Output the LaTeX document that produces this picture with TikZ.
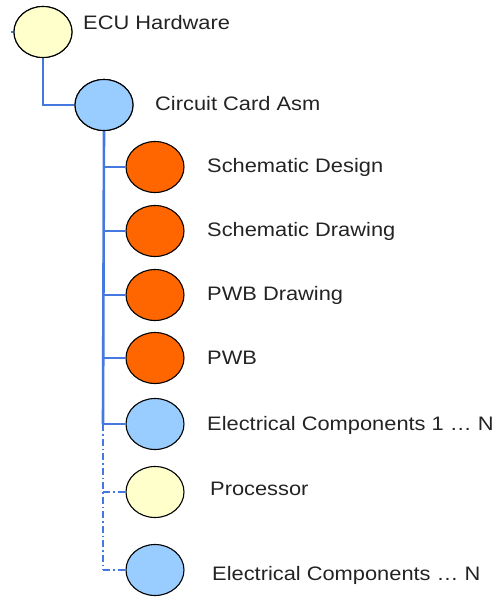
\documentclass[tikz,border=0pt]{standalone}
\usepackage{fontspec}
\setmainfont{Liberation Sans}[FakeStretch=1.12]
\usetikzlibrary{shapes.geometric}
\definecolor{linkblue}{RGB}{70,120,225}
\definecolor{lblue}{RGB}{153,204,255}
\definecolor{orng}{RGB}{255,102,0}
\definecolor{lyel}{RGB}{255,255,204}
\definecolor{txt}{RGB}{35,35,35}
\tikzset{
  bub/.style={ellipse, draw=black, line width=1.1pt, minimum width=58pt, minimum height=51pt, inner sep=0pt},
  bblue/.style={bub, fill=lblue},
  borange/.style={bub, fill=orng},
  byellow/.style={bub, fill=lyel},
  lbl/.style={anchor=base west, inner sep=0pt, text=txt, font=\fontsize{19.5}{22}\selectfont},
  link/.style={draw=linkblue, line width=2.6pt},
  dlink/.style={draw=linkblue, line width=2.3pt, dash pattern=on 7pt off 3pt on 1.5pt off 3pt}
}
\begin{document}
\begin{tikzpicture}[x=1pt,y=-1pt]
\useasboundingbox (0,0) rectangle (498,597);
\coordinate (stub) at (11,32);
\coordinate (trunk) at (103,424);
\coordinate (dend) at (103,570);
% bubbles
\node[byellow] (ecu) at (43,32) {};
\node[bblue] (cca) at (104,105) {};
\node[borange] (sd) at (155,167) {};
\node[borange] (sdr) at (155,231) {};
\node[borange] (pwbd) at (155,295) {};
\node[borange] (pwb) at (155,358) {};
\node[bblue] (ec1) at (155,424) {};
\node[byellow] (proc) at (155,492) {};
\node[bblue] (ecn) at (155,570) {};
% labels
\node[lbl] (tecu) at (83,29) {ECU Hardware};
\node[lbl] (tcca) at (155,110) {Circuit Card Asm};
\node[lbl] (tsd) at (207,172) {Schematic Design};
\node[lbl] (tsdr) at (207,236) {Schematic Drawing};
\node[lbl] (tpwbd) at (207,300) {PWB Drawing};
\node[lbl] (tpwb) at (207,364) {PWB};
\node[lbl] (tec1) at (207,430) {Electrical Components 1 \ldots\ N};
\node[lbl] (tproc) at (210,495) {Processor};
\node[lbl] (tecn) at (212,580) {Electrical Components \ldots\ N};
% connectors
\draw[link] (stub) -- (ecu.west);
\draw[link] (ecu.south) |- (cca.west);
\draw[link] (cca.south) -- (trunk);
\draw[link] (sd.west) -- (sd.west -| trunk);
\draw[link] (sdr.west) -- (sdr.west -| trunk);
\draw[link] (pwbd.west) -- (pwbd.west -| trunk);
\draw[link] (pwb.west) -- (pwb.west -| trunk);
\draw[link] (ec1.west) -- (trunk);
\draw[dlink] (trunk) -- (dend);
\draw[dlink] (proc.west -| trunk) -- (proc.west);
\draw[dlink] (dend) -- (ecn.west);
% redraw bubbles that lines touch from below
\node[byellow] at (ecu) {};
\node[bblue] at (cca) {};
\end{tikzpicture}
\end{document}
